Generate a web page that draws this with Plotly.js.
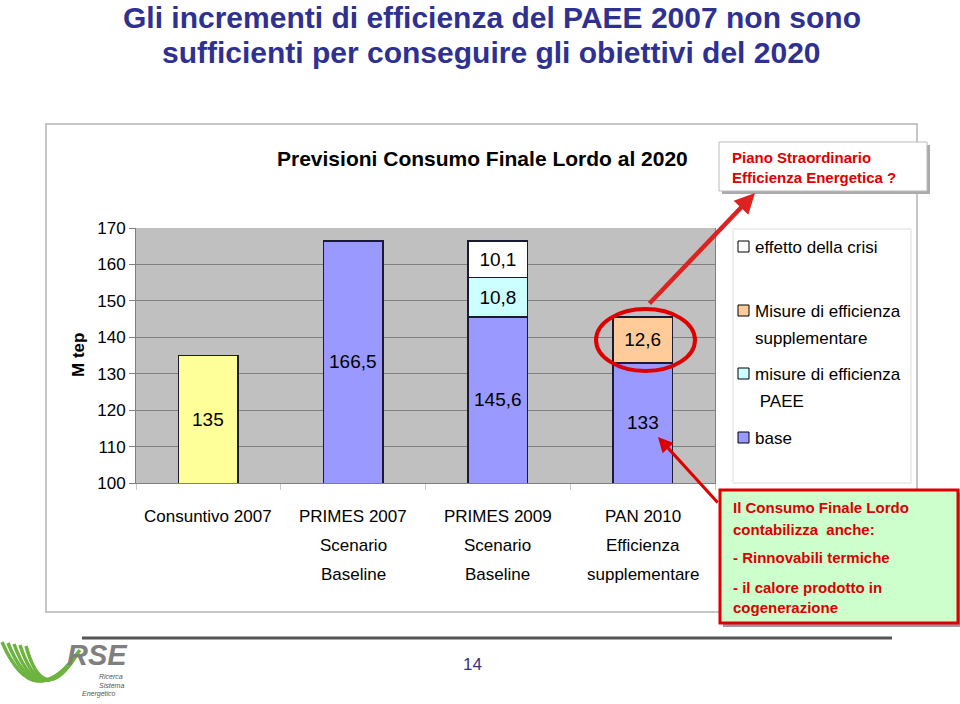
<!DOCTYPE html>
<html>
<head>
<meta charset="utf-8">
<script src="https://cdn.plot.ly/plotly-3.0.1.min.js"></script>
<style>
  html, body { margin: 0; padding: 0; background: #fff; }
  #graph1 { width: 960px; height: 704px; }
</style>
</head>
<body>
<div id="graph1"></div>
<script>
(function() {
  // Chart data
  const categories = [
    'Consuntivo 2007',
    'PRIMES 2007<br>Scenario<br>Baseline',
    'PRIMES 2009<br>Scenario<br>Baseline',
    'PAN 2010<br>Efficienza<br>supplementare'
  ];
  const baseValues = [135, 166.5, 145.6, 133];
  const paeeValues = [null, null, 10.8, null];
  const supplValues = [null, null, null, 12.6];
  const crisiValues = [null, null, 10.1, null];

  const legendNames = ['effetto della crisi', 'Misure di efficienza<br>supplementare', 'misure di efficienza<br> PAEE', 'base'];
  const legendColors = ['#FFFFFF', '#FFCC99', '#CCFFFF', '#9999FF'];
  const yTicks = [100, 110, 120, 130, 140, 150, 160, 170];
  const yRange = [100, 170];

  const ARIAL = '"Liberation Sans", Arial, sans-serif';

  // plot area in pixels, used to place the slide decorations in paper coords
  const L = 136, R = 715, T = 228, B = 483;
  const px = X => (X - L) / (R - L);
  const py = Y => (B - Y) / (B - T);

  const fmt = v => (v == null ? '' : String(v).replace('.', ','));
  const barLine = {color: '#1a1a33', width: 1.5};
  const labelFont = {family: ARIAL, size: 19, color: '#000'};

  function barTrace(vals, color, showText) {
    return {
      x: categories, y: vals, type: 'bar',
      marker: {color: color, line: barLine},
      text: vals.map(fmt), textposition: showText ? 'inside' : 'none', insidetextanchor: 'middle',
      textangle: 0, constraintext: 'none', textfont: labelFont,
      hoverinfo: 'skip', showlegend: false
    };
  }

  const traceBase = barTrace(baseValues, ['#FFFF99', '#9999FF', '#9999FF', '#9999FF'], false);
  const tracePaee = barTrace(paeeValues, '#CCFFFF', true);
  const traceSuppl = barTrace(supplValues, '#FFCC99', true);
  const traceCrisi = barTrace(crisiValues, '#FFFFFF', true);

  const data = [traceBase, tracePaee, traceSuppl, traceCrisi];

  const shapes = [];
  const annotations = [];

  // base values: label in the middle of the visible part of the bar
  baseValues.forEach((v, i) => {
    annotations.push({x: categories[i], y: (yRange[0] + v) / 2, xref: 'x', yref: 'y',
      text: fmt(v), showarrow: false, font: labelFont});
  });

  function rect(x0, y0, x1, y1, fill, line, lw) {
    shapes.push({type: 'rect', xref: 'paper', yref: 'paper', layer: 'above',
      x0: px(x0), x1: px(x1), y0: py(y1), y1: py(y0),
      fillcolor: fill, line: {color: line, width: lw}});
  }
  function label(text, X, Y, size, color, anchor, extra) {
    annotations.push(Object.assign({text: text, xref: 'paper', yref: 'paper',
      x: px(X), y: py(Y), xanchor: anchor || 'center', yanchor: 'middle',
      showarrow: false, font: {family: ARIAL, size: size, color: color || '#000'}}, extra || {}));
  }

  // category labels, one line at a time for the wider line spacing
  categories.forEach((c, i) => {
    c.split('<br>').forEach((line, k) => {
      annotations.push({x: categories[i], xref: 'x', yref: 'paper', y: py(516 + 29 * k),
        yanchor: 'middle', text: line, showarrow: false,
        font: {family: ARIAL, size: 17, color: '#000'}});
    });
  });

  // outer chart frame (drawn below the plot)
  shapes.push({type: 'rect', xref: 'paper', yref: 'paper', layer: 'below',
    x0: px(46), x1: px(917), y0: py(612), y1: py(124), line: {color: '#b4b4b4', width: 1.5}});

  // slide title
  label('<b>Gli incrementi di efficienza del PAEE 2007 non sono</b>', 492, 17, 30, '#2E3192');
  label('<b>sufficienti per conseguire gli obiettivi del 2020</b>', 491, 52, 30, '#2E3192');

  // chart title
  label('<b>Previsioni Consumo Finale Lordo al 2020</b>', 483, 158, 21, '#000');

  // y axis title
  label('<b>M tep</b>', 78, 355, 17, '#000', 'center', {textangle: -90});

  // legend box
  rect(733, 229, 911, 483, '#FFFFFF', '#dddddd', 1);
  const legendRows = [247, 311, 374, 438];
  legendNames.forEach((name, i) => {
    const y = legendRows[i];
    rect(738, y - 6, 749, y + 5, legendColors[i], '#000', 1);
    name.split('<br>').forEach((line, k) => {
      label(line.replace(/^ /, '&nbsp;'), 753, y + 27 * k, 17, '#000', 'left');
    });
  });

  // Piano Straordinario box
  rect(722, 145, 930, 194, '#aaaaaa', '#aaaaaa', 0);
  rect(719, 142, 927, 191, '#FFFFFF', '#bbbbbb', 1);
  label('<b>Piano Straordinario</b>', 730, 157, 15, '#E00000', 'left');
  label('<b>Efficienza Energetica ?</b>', 730, 177, 15, '#E00000', 'left');

  // green note box
  rect(723, 493, 961, 627, '#999999', '#999999', 0);
  rect(720, 490, 958, 623, '#CCFFCC', '#DD0000', 3);
  const noteLines = [['Il Consumo Finale Lordo', 507], ['contabilizza  anche:', 529],
    ['- Rinnovabili termiche', 557], ['- il calore prodotto in', 587], ['cogenerazione', 607]];
  noteLines.forEach(([t, y]) => label('<b>' + t + '</b>', 731, y, 15, '#DD0000', 'left'));

  // red ellipse around supplementary measures
  shapes.push({type: 'circle', xref: 'paper', yref: 'paper', layer: 'above',
    x0: px(596), x1: px(695), y0: py(371), y1: py(309), line: {color: '#DD0000', width: 4}});

  // arrows (the upper one is drawn as a hollow double line)
  annotations.push({xref: 'paper', yref: 'paper', axref: 'paper', ayref: 'paper',
    x: px(755), y: py(193), ax: px(648), ay: py(305), text: '', showarrow: true,
    arrowhead: 2, arrowsize: 0.9, arrowwidth: 4.5, arrowcolor: '#DD2222'});
  shapes.push({type: 'line', xref: 'paper', yref: 'paper', layer: 'above',
    x0: px(649), y0: py(304), x1: px(746), y1: py(202), line: {color: '#FFD0D0', width: 1.2}});
  annotations.push({xref: 'paper', yref: 'paper', axref: 'paper', ayref: 'paper',
    x: px(658), y: py(437), ax: px(719), ay: py(504), text: '', showarrow: true,
    arrowhead: 2, arrowsize: 1, arrowwidth: 3, arrowcolor: '#DD0000'});

  // footer line and page number
  shapes.push({type: 'line', xref: 'paper', yref: 'paper', x0: px(82), x1: px(892), y0: py(638), y1: py(638),
    line: {color: '#555555', width: 3}});
  label('14', 472, 664, 17, '#333380');

  // RSE logo
  for (let i = 0; i < 5; i++) {
    const a = [2 + 6 * i, 642 + i];
    const c = [34 + 2 * i, 716 - 3 * i];
    const e = [80 - 2 * i, 650 + 3 * i];
    shapes.push({type: 'path', xref: 'paper', yref: 'paper',
      path: `M ${px(a[0])} ${py(a[1])} Q ${px(c[0])} ${py(c[1])} ${px(e[0])} ${py(e[1])}`,
      line: {color: '#6CB33F', width: 3.5}});
  }
  label('<b><i>RSE</i></b>', 97, 655, 29, '#7f7f7f');
  label('<i>Ricerca</i>', 97, 676, 7, '#555', 'left');
  label('<i>Sistema</i>', 97, 685, 7, '#555', 'left');
  label('<i>Energetico</i>', 80, 694, 7, '#555', 'left');

  const layout = {
    width: 960, height: 704,
    margin: {l: L, r: 960 - R, t: T, b: 704 - B, pad: 0},
    paper_bgcolor: '#FFFFFF', plot_bgcolor: '#C0C0C0',
    barmode: 'stack', bargap: 0.59,
    showlegend: false,
    xaxis: {
      type: 'category', showticklabels: false,
      ticks: 'outside', tickson: 'boundaries', ticklen: 6, tickcolor: '#c8c8c8',
      showline: true, linecolor: '#808080', linewidth: 1
    },
    yaxis: {
      range: yRange, tickvals: yTicks, ticktext: yTicks.map(String),
      tickfont: {family: ARIAL, size: 17, color: '#000'},
      ticks: 'outside', ticklen: 6, tickcolor: '#808080',
      showline: true, linecolor: '#808080', mirror: true, linewidth: 1,
      gridcolor: '#808080', gridwidth: 1, zeroline: false
    },
    shapes: shapes,
    annotations: annotations
  };

  Plotly.newPlot('graph1', data, layout, {displayModeBar: false, staticPlot: true});
})();
</script>
</body>
</html>
